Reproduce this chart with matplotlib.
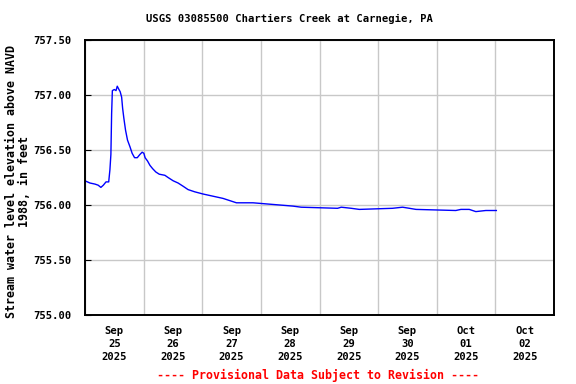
import numpy as np
import pandas as pd
import matplotlib.pyplot as plt
import matplotlib.dates as mdates

# hours after 2025-09-25 00:00 and gage elevation (ft, NAVD 1988)
hours = [0.0, 2.0, 4.1, 5.4, 6.5, 7.5, 8.6, 9.7, 10.2, 10.6, 10.9, 11.2, 12.0, 12.7,
         13.2, 13.9, 14.4, 15.0, 15.4, 15.9, 16.6, 17.4, 18.4, 19.3, 20.3, 21.4,
         22.5, 23.4, 24.1, 24.6, 25.6, 26.6, 27.7, 29.0, 30.4, 32.7, 34.0, 36.1,
         38.1, 40.2, 42.2, 44.9, 48.3, 52.4, 56.5, 62.0, 68.8, 74.2, 79.7, 85.1,
         88.5, 103.4, 104.9, 109.0, 112.3, 125.9, 130.0, 132.8, 135.5, 151.8,
         153.9, 157.3, 160.0, 164.1, 168.4]
level = [756.22, 756.20, 756.19, 756.18, 756.16, 756.18, 756.21, 756.21, 756.32,
         756.46, 756.83, 757.04, 757.05, 757.04, 757.08, 757.05, 757.03, 756.98,
         756.88, 756.79, 756.68, 756.59, 756.53, 756.47, 756.43, 756.43, 756.46,
         756.48, 756.47, 756.43, 756.40, 756.36, 756.33, 756.30, 756.28, 756.27,
         756.25, 756.22, 756.20, 756.17, 756.14, 756.12, 756.10, 756.08, 756.06,
         756.02, 756.02, 756.01, 756.00, 755.99, 755.98, 755.97, 755.98, 755.97,
         755.96, 755.97, 755.98, 755.97, 755.96, 755.95, 755.96, 755.96, 755.94,
         755.95, 755.95]

start = pd.Timestamp("2025-09-25")
times = start + pd.to_timedelta(hours, unit="h")

plt.rcParams['font.family'] = 'DejaVu Sans Mono'
plt.rcParams['font.weight'] = 'bold'

fig = plt.figure(figsize=(5.76, 3.84), dpi=100)
ax = fig.add_axes([85 / 576, 1 - 315 / 384, 469 / 576, 275 / 384])

ax.plot(times, level, color='#0000ff', lw=1.0)

ax.set_xlim(start, start + pd.Timedelta(days=8))
ax.set_ylim(755.0, 757.5)

# gridlines at midnight, day labels at noon
ax.xaxis.set_major_locator(mdates.DayLocator())
ax.xaxis.set_major_formatter(plt.NullFormatter())
ax.xaxis.set_minor_locator(mdates.HourLocator(byhour=12))
ax.xaxis.set_minor_formatter(mdates.DateFormatter('%b\n%d\n%Y'))
ax.tick_params(axis='x', which='major', length=0)
ax.tick_params(axis='x', which='minor', length=0, pad=8, labelsize=7.6)

ax.set_yticks(np.arange(755.0, 757.51, 0.5))
ax.yaxis.set_major_formatter(plt.FormatStrFormatter('%.2f'))
ax.tick_params(axis='y', direction='in', length=4, labelsize=7.6, pad=10)

ax.grid(True, which='major', color='#c8c8c8', lw=1.0)
for s in ax.spines.values():
    s.set_linewidth(1.4)

for lbl in ax.get_xticklabels(minor=True):
    lbl.set_fontweight('bold')
    lbl.set_linespacing(1.35)
for lbl in ax.get_yticklabels():
    lbl.set_fontweight('bold')

fig.text(0.502, 1 - 19 / 384, 'USGS 03085500 Chartiers Creek at Carnegie, PA',
         ha='center', va='center', fontsize=7.6, fontweight='bold')
fig.text(12 / 576, 1 - 181 / 384, 'Stream water level elevation above NAVD',
         ha='center', va='center', rotation=90, fontsize=8.4, fontweight='bold')
fig.text(25 / 576, 1 - 181 / 384, '1988, in feet',
         ha='center', va='center', rotation=90, fontsize=8.4, fontweight='bold')
fig.text(318 / 576, 1 - 375 / 384, '---- Provisional Data Subject to Revision ----',
         ha='center', va='center', fontsize=8.4, fontweight='bold', color='red')

fig.savefig('out.png', dpi=100)
